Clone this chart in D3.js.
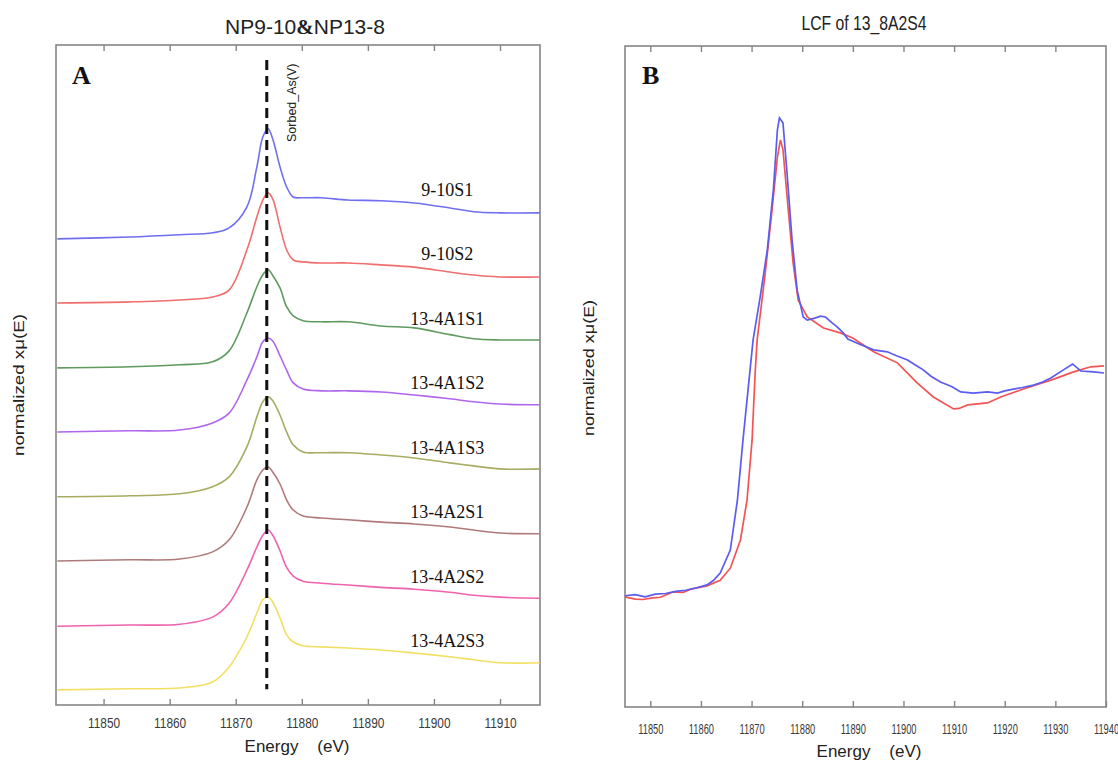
<!DOCTYPE html>
<html lang="en">
<head>
  <meta charset="UTF-8">
  <title>XANES spectra - NP9-10 & NP13-8</title>
  <style>
    body { margin: 0; background: #fff; }
    svg { display: block; }
    .frame { fill: none; stroke: #858585; stroke-width: 1.6; }
    .axis path { display: none; }
    .axis line { stroke: #858585; stroke-width: 1.4; }
    .axis text { font-family: "Liberation Sans", Arial, sans-serif; fill: #3a3a3a; }
    .title, .axis-title { font-family: "Liberation Sans", Arial, sans-serif; fill: #222; }
    .sample-label { font-family: "Liberation Serif", "Times New Roman", serif; fill: #111; }
    .panel-tag { font-family: "Liberation Serif", "Times New Roman", serif; font-weight: bold; fill: #111; }
  </style>
  <script src="https://d3js.org/d3.v7.min.js"></script>
</head>
<body>
<svg id="chart" width="1118" height="761"></svg>
<script>
  // ---- panel A : stacked normalized spectra ----
  const energyA = [11843, 11854, 11861.5, 11866.5, 11869, 11871.7, 11873.2, 11874.1, 11874.9, 11875.6,
                   11876.7, 11877.7, 11878.7, 11880.2, 11883, 11887, 11892, 11897, 11902.4, 11906, 11910, 11916];
  const sampleNames = ['9-10S1', '9-10S2', '13-4A1S1', '13-4A1S2', '13-4A1S3', '13-4A2S1', '13-4A2S2', '13-4A2S3'];
  const sampleOffsets = [12.36, 10.66, 8.94, 7.24, 5.52, 3.82, 2.09, 0.40];
  const sampleColors = ['#6f6ff0', '#f06e6e', '#5f9a5f', '#b066ec', '#a7ac62', '#b07a7a', '#ef62ae', '#f3df62'];
  const s910S1   = [0, 0.05, 0.11, 0.16, 0.29, 0.85, 1.91, 2.70, 2.92, 2.65, 1.91, 1.38, 1.11, 1.09, 1.09, 1.03, 1.01, 0.95, 0.82, 0.72, 0.69, 0.69];
  const s910S2   = [0, 0.03, 0.08, 0.16, 0.34, 1.41, 2.28, 2.73, 2.92, 2.76, 2.02, 1.41, 1.14, 1.09, 1.06, 1.06, 1.01, 0.95, 0.82, 0.74, 0.69, 0.69];
  const s134A1S1 = [0, 0.03, 0.08, 0.16, 0.45, 1.46, 2.15, 2.47, 2.60, 2.45, 2.12, 1.62, 1.38, 1.25, 1.22, 1.22, 1.11, 1.06, 0.88, 0.77, 0.74, 0.74];
  const s134A1S2 = [0, 0.03, 0.05, 0.24, 0.50, 1.38, 1.99, 2.39, 2.49, 2.41, 2.02, 1.64, 1.30, 1.14, 1.09, 1.09, 1.06, 0.98, 0.88, 0.80, 0.74, 0.72];
  const s134A1S3 = [0, 0.03, 0.08, 0.27, 0.53, 1.33, 2.12, 2.52, 2.65, 2.55, 2.17, 1.72, 1.38, 1.19, 1.17, 1.17, 1.11, 1.03, 0.90, 0.82, 0.74, 0.74];
  const s134A2S1 = [0, 0.03, 0.05, 0.24, 0.56, 1.43, 2.15, 2.41, 2.49, 2.36, 2.04, 1.62, 1.35, 1.19, 1.14, 1.09, 1.03, 0.98, 0.90, 0.82, 0.74, 0.72];
  const s134A2S2 = [0, 0.03, 0.05, 0.24, 0.61, 1.49, 2.10, 2.41, 2.55, 2.41, 2.00, 1.56, 1.33, 1.19, 1.14, 1.09, 1.03, 0.98, 0.90, 0.82, 0.77, 0.74];
  const s134A2S3 = [0, 0.03, 0.05, 0.21, 0.61, 1.41, 2.04, 2.39, 2.47, 2.33, 1.91, 1.46, 1.27, 1.17, 1.14, 1.11, 1.06, 0.98, 0.88, 0.80, 0.72, 0.72];
  const sampleValues = [s910S1, s910S2, s134A1S1, s134A1S2, s134A1S3, s134A2S1, s134A2S2, s134A2S3];
  const sorbedEdge = 11874.7;   // Sorbed_As(V) reference line
  const ticksA = [11850, 11860, 11870, 11880, 11890, 11900, 11910];

  // ---- panel B : LCF of 13_8A2S4 (energy, normalized value) ----
  const lcfData = [[11845, 0.005], [11847, 0.01], [11849, 0.0], [11851, 0.012], [11853, 0.015], [11855, 0.025],
    [11857, 0.03], [11859, 0.04], [11861.2, 0.054], [11862.5, 0.075], [11863.8, 0.108], [11865.8, 0.212],
    [11867.2, 0.439], [11868.3, 0.711], [11869.3, 0.939], [11870.3, 1.166], [11871.7, 1.361], [11873.1, 1.574],
    [11874.3, 1.847], [11875.1, 2.119], [11875.5, 2.174], [11876.2, 2.151], [11877.0, 1.924], [11878.0, 1.619],
    [11879.0, 1.392], [11880.2, 1.27], [11881.0, 1.256], [11882.5, 1.265], [11883.6, 1.274], [11884.6, 1.27],
    [11885.9, 1.243], [11886.9, 1.225], [11888.1, 1.198], [11889, 1.17], [11891, 1.15], [11894.1, 1.121],
    [11896.8, 1.112], [11898.5, 1.095], [11900.8, 1.075], [11902.5, 1.05], [11903.9, 1.03], [11905.5, 1.0],
    [11907.3, 0.975], [11909.5, 0.955], [11911.3, 0.93], [11913.8, 0.925], [11916.6, 0.93], [11918.6, 0.925],
    [11920, 0.935], [11921.7, 0.943], [11923.5, 0.95], [11925.7, 0.961], [11927.5, 0.975], [11929.1, 0.993],
    [11931.6, 1.03], [11933.4, 1.057], [11935.0, 1.025], [11937.6, 1.021], [11939.6, 1.016]];
  const lcfFit = [[11845, 0.0], [11847, -0.01], [11848.5, -0.012], [11850.5, -0.005], [11852, -0.002],
    [11854.5, 0.022], [11856.5, 0.02], [11858, 0.035], [11861.2, 0.05], [11863.8, 0.075], [11865.8, 0.13],
    [11867.8, 0.258], [11869.1, 0.439], [11870.1, 0.711], [11870.7, 1.015], [11871.1, 1.166], [11872.7, 1.47],
    [11874.1, 1.769], [11875.1, 1.996], [11875.7, 2.074], [11876.2, 2.029], [11877.2, 1.769], [11878.2, 1.515],
    [11879.2, 1.347], [11881.0, 1.27], [11884.2, 1.22], [11887.5, 1.198], [11890.0, 1.175], [11894.1, 1.112],
    [11898.8, 1.062], [11902.7, 0.971], [11905.9, 0.907], [11909.9, 0.853], [11911, 0.855], [11912.7, 0.871],
    [11916.6, 0.88], [11919.2, 0.907], [11923.7, 0.943], [11929.7, 0.988], [11933.6, 1.021], [11937.0, 1.044],
    [11939.6, 1.048]];
  const ticksB = [11850, 11860, 11870, 11880, 11890, 11900, 11910, 11920, 11930, 11940];

  const svg = d3.select('#chart');

  // panel A
  const boxA = { left: 56, right: 540, top: 45, bottom: 705 };
  const xA = d3.scaleLinear().domain([11842.8, 11916.05]).range([boxA.left, boxA.right]);
  const yA = d3.scaleLinear().domain([0, 17.5]).range([boxA.bottom, boxA.top]);

  // panel B
  const boxB = { left: 625, right: 1106, top: 46, bottom: 707 };
  const xB = d3.scaleLinear().domain([11845, 11940]).range([boxB.left, boxB.right]);
  const yB = d3.scaleLinear().domain([-0.5, 2.5]).range([boxB.bottom, boxB.top]);

  function frame(box) {
    svg.append('rect').attr('class', 'frame')
      .attr('x', box.left).attr('y', box.top)
      .attr('width', box.right - box.left).attr('height', box.bottom - box.top);
  }

  function axes(x, box, ticks, fontSize, squeeze, pad) {
    const bottom = svg.append('g').attr('class', 'axis')
      .attr('transform', `translate(0,${box.bottom})`)
      .call(d3.axisBottom(x).tickValues(ticks).tickSize(-6).tickSizeOuter(0)
        .tickPadding(pad).tickFormat(d3.format('d')));
    bottom.selectAll('text')
      .attr('font-size', fontSize)
      .attr('transform', `scale(${squeeze},1)`);
    svg.append('g').attr('class', 'axis')
      .attr('transform', `translate(0,${box.top})`)
      .call(d3.axisTop(x).tickValues(ticks.filter(t => x(t) < box.right - 2)).tickSize(-6).tickSizeOuter(0).tickFormat(''));
  }

  // ----- draw panel A -----
  frame(boxA);
  axes(xA, boxA, ticksA, 14, 0.85, 13);

  const lineA = d3.line()
    .x(d => xA(d[0]))
    .y(d => yA(d[1]))
    .curve(d3.curveCatmullRom.alpha(0.5));

  sampleNames.forEach((name, i) => {
    const pts = energyA.map((e, j) => [e, sampleOffsets[i] + sampleValues[i][j]]);
    svg.append('path')
      .attr('d', lineA(pts))
      .attr('fill', 'none')
      .attr('stroke', sampleColors[i])
      .attr('stroke-width', 1.6);
    svg.append('text').attr('class', 'sample-label')
      .attr('x', xA(11902))
      .attr('y', yA(sampleOffsets[i] + 1.14))
      .attr('text-anchor', 'middle')
      .attr('font-size', 18)
      .text(name);
  });

  svg.append('line')
    .attr('x1', xA(sorbedEdge)).attr('x2', xA(sorbedEdge))
    .attr('y1', yA(17.1)).attr('y2', yA(0.42))
    .attr('stroke', '#111').attr('stroke-width', 3)
    .attr('stroke-dasharray', '10,6');

  svg.append('text')
    .attr('class', 'title')
    .attr('transform', `translate(${xA(sorbedEdge) + 29},142) rotate(-90)`)
    .attr('font-size', 12.5)
    .text('Sorbed_As(V)');

  svg.append('text').attr('class', 'panel-tag')
    .attr('x', 72).attr('y', 84).attr('font-size', 26).text('A');

  const titleA = svg.append('text').attr('class', 'title')
    .attr('x', 305).attr('y', 34).attr('text-anchor', 'middle').attr('font-size', 21);
  titleA.append('tspan').text('NP9-10');
  titleA.append('tspan').attr('font-family', '"Liberation Serif", serif').attr('font-weight', 'bold').text('&');
  titleA.append('tspan').text('NP13-8');

  svg.append('text').attr('class', 'axis-title')
    .attr('x', 297).attr('y', 752).attr('text-anchor', 'middle').attr('font-size', 17)
    .style('white-space', 'pre')
    .text('Energy    (eV)');

  svg.append('text').attr('class', 'axis-title')
    .attr('transform', 'translate(24,385) rotate(-90) scale(1.25,1)')
    .attr('text-anchor', 'middle').attr('font-size', 15)
    .text('normalized xμ(E)');

  // ----- draw panel B -----
  frame(boxB);
  axes(xB, boxB, ticksB, 15.5, 0.6, 16);

  const lineB = d3.line()
    .x(d => xB(d[0]))
    .y(d => yB(d[1]));

  svg.append('path')
    .attr('d', lineB(lcfFit))
    .attr('fill', 'none').attr('stroke', '#f25454').attr('stroke-width', 1.7);
  svg.append('path')
    .attr('d', lineB(lcfData))
    .attr('fill', 'none').attr('stroke', '#5c5cf0').attr('stroke-width', 1.7);

  svg.append('text').attr('class', 'panel-tag')
    .attr('x', 642).attr('y', 84).attr('font-size', 26).text('B');

  svg.append('text').attr('class', 'title')
    .attr('transform', 'translate(864,30) scale(0.75,1)')
    .attr('text-anchor', 'middle').attr('font-size', 21)
    .text('LCF of 13_8A2S4');

  svg.append('text').attr('class', 'axis-title')
    .attr('x', 869).attr('y', 757).attr('text-anchor', 'middle').attr('font-size', 17)
    .style('white-space', 'pre')
    .text('Energy    (eV)');

  svg.append('text').attr('class', 'axis-title')
    .attr('transform', 'translate(594,368) rotate(-90) scale(1.2,1)')
    .attr('text-anchor', 'middle').attr('font-size', 15)
    .text('normalized xμ(E)');
</script>
</body>
</html>
